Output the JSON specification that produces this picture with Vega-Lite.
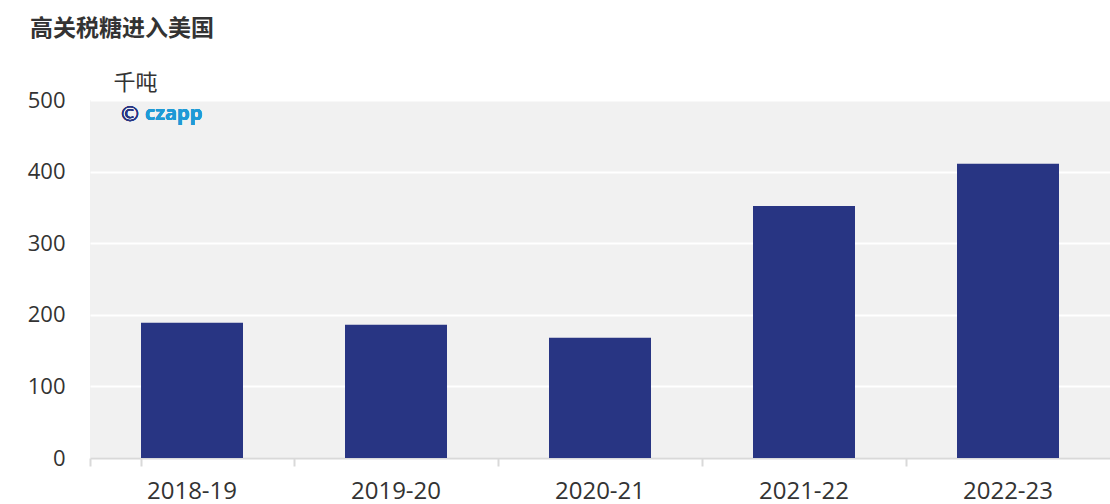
{
  "$schema": "https://vega.github.io/schema/vega-lite/v6.json",
  "width": 1020,
  "height": 358,
  "autosize": {"type": "none"},
  "padding": {"left": 90, "top": 100, "right": 0, "bottom": 46},
  "background": "#ffffff",
  "title": {
    "text": "高关税糖进入美国",
    "anchor": "start",
    "frame": "group",
    "orient": "top",
    "dx": -60,
    "offset": 30,
    "font": "Noto Sans CJK SC",
    "fontSize": 23,
    "fontWeight": "bold",
    "color": "#333333"
  },
  "config": {
    "view": {"fill": "#f1f1f1", "stroke": null},
    "font": "Open Sans"
  },
  "data": {
    "values": [
      {"year": "2018-19", "value": 189},
      {"year": "2019-20", "value": 186},
      {"year": "2020-21", "value": 168},
      {"year": "2021-22", "value": 352},
      {"year": "2022-23", "value": 411}
    ]
  },
  "encoding": {
    "x": {
      "field": "year",
      "type": "nominal",
      "sort": null,
      "scale": {"paddingInner": 0.5, "paddingOuter": 0.25},
      "axis": {
        "title": null,
        "labelAngle": 0,
        "labelFont": "Open Sans",
        "labelFontSize": 24,
        "labelColor": "#333333",
        "labelPadding": 13,
        "bandPosition": -0.5,
        "tickExtra": true,
        "tickSize": 8,
        "tickColor": "#d9d9d9",
        "tickWidth": 2,
        "domainColor": "#d9d9d9",
        "domainWidth": 2,
        "grid": false
      }
    }
  },
  "layer": [
    {
      "mark": {"type": "bar", "color": "#283583"},
      "encoding": {
        "y": {
          "field": "value",
          "type": "quantitative",
          "scale": {"domain": [0, 500]},
          "axis": {
            "title": "千吨",
            "titleAngle": 0,
            "titleX": 23,
            "titleY": -18,
            "titleAlign": "left",
            "titleBaseline": "middle",
            "titleFont": "Noto Sans CJK SC",
            "titleFontSize": 22,
            "titleFontWeight": "normal",
            "titleColor": "#333333",
            "values": [0, 100, 200, 300, 400, 500],
            "labelFont": "Open Sans",
            "labelFontSize": 22,
            "labelColor": "#333333",
            "labelPadding": 25,
            "ticks": false,
            "domain": false,
            "grid": true,
            "gridColor": "#ffffff",
            "gridWidth": 2
          }
        }
      }
    },
    {
      "mark": {"type": "text", "text": "©", "color": "#283583", "fontSize": 22, "font": "DejaVu Sans", "dx": -62, "baseline": "middle", "align": "center"},
      "encoding": {"x": {"datum": "2018-19"}, "y": {"datum": 480}}
    },
    {
      "mark": {"type": "text", "text": "czapp", "color": "#1f9ad6", "fontSize": 20, "fontWeight": "bold", "font": "Open Sans", "dx": -47, "baseline": "middle", "align": "left"},
      "encoding": {"x": {"datum": "2018-19"}, "y": {"datum": 480}}
    }
  ]
}
